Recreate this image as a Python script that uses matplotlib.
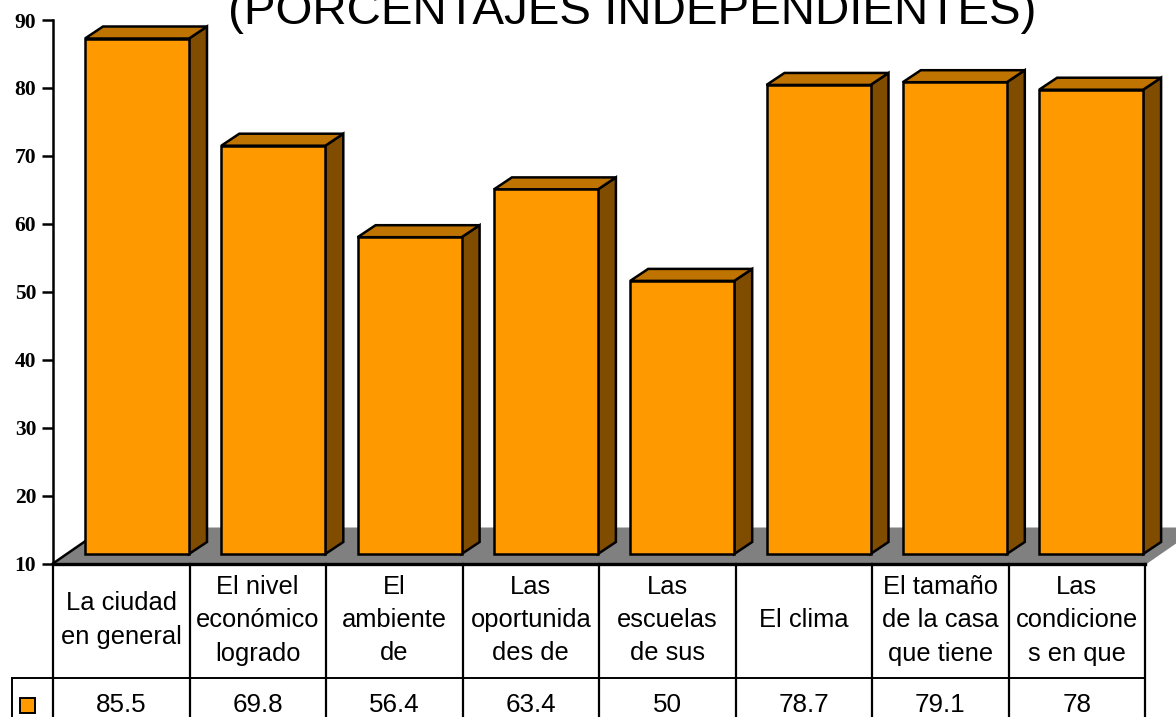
import matplotlib
matplotlib.use("Agg")
import matplotlib.pyplot as plt
from matplotlib.patches import Polygon

categories = ["La ciudad\nen general", "El nivel\neconómico\nlogrado", "El\nambiente\nde",
              "Las\noportunida\ndes de", "Las\nescuelas\nde sus", "El clima",
              "El tamaño\nde la casa\nque tiene", "Las\ncondicione\ns en que"]
values = [85.5, 69.8, 56.4, 63.4, 50, 78.7, 79.1, 78]
yticks = [10, 20, 30, 40, 50, 60, 70, 80, 90]
title = "(PORCENTAJES INDEPENDIENTES)"

W, H = 1176, 717
L, R, T, B = 53, 1145, 20, 563.5
ORANGE, TOP, SIDE, GREY = "#FF9900", "#BF7300", "#7F4C00", "#808080"
LW = 1.8

fig = plt.figure(figsize=(W / 100, H / 100), dpi=100, facecolor="white")
ax = fig.add_axes([L / W, 1 - B / H, (R - L) / W, (B - T) / H])
ax.set_xlim(0, len(values))
ax.set_ylim(10, 90)
ax.patch.set_visible(False)
for s in ("top", "right", "bottom"):
    ax.spines[s].set_visible(False)
ax.spines["left"].set_linewidth(LW)
ax.set_xticks([])
ax.set_yticks(yticks)
ax.tick_params(axis="y", length=8, width=LW, pad=4)
for t in ax.get_yticklabels():
    t.set_fontfamily("Liberation Serif")
    t.set_fontweight("bold")
    t.set_fontsize(15.5)

ux = (R - L) / len(values)
uy = (B - T) / 80
px = lambda p: (p - L) / ux
py = lambda p: 10 + (B - p) / uy

# floor
dx_f, dy_f = 52 / ux, 36 / uy
n = len(values)
ax.add_patch(Polygon([(0, 10), (n, 10), (n + dx_f, 10 + dy_f), (dx_f, 10 + dy_f)],
                     fc=GREY, ec="none", clip_on=False, zorder=1))
ax.plot([0, dx_f], [10, 10 + dy_f], color="black", lw=LW, clip_on=False, zorder=1.5)
ax.plot([n, n + dx_f], [10, 10 + dy_f], color=GREY, lw=LW, clip_on=False, zorder=1.5)

# bars
bw = 104 / ux
off = 32 / ux
step = 136.3 / ux
base = 10 + 9.5 / uy
dx, dy = 18 / ux, 12 / uy
kw = dict(ec="black", lw=LW, joinstyle="miter", clip_on=False, zorder=2)
for i, v in enumerate(values):
    x0 = i * step + off
    x1 = x0 + bw
    y1 = base + (v - 10) * 1.005
    ax.add_patch(Polygon([(x1, base), (x1 + dx, base + dy), (x1 + dx, y1 + dy), (x1, y1)], fc=SIDE, **kw))
    ax.add_patch(Polygon([(x0, y1), (x1, y1), (x1 + dx, y1 + dy), (x0 + dx, y1 + dy)], fc=TOP, **kw))
    ax.add_patch(Polygon([(x0, base), (x1, base), (x1, y1), (x0, y1)], fc=ORANGE, **kw))

# data table
line = dict(color="black", clip_on=False, zorder=3)
ax.plot([0, n], [10, 10], lw=2.4, **line)
ax.plot([px(12), n], [py(678), py(678)], lw=1.4, **line)
ax.plot([px(12), px(12)], [py(678), py(720)], lw=1.4, **line)
for i in range(n + 1):
    ax.plot([i, i], [10, py(720)], lw=1.6, **line)
for i, (c, v) in enumerate(zip(categories, values)):
    ax.text(i + 0.5, py(620), c, ha="center", va="center", family="Liberation Sans",
            fontsize=18.4, linespacing=1.5, clip_on=False)
    ax.text(i + 0.5, py(705), f"{v:g}", ha="center", va="center", family="Liberation Sans",
            fontsize=18.7, clip_on=False)
ax.add_patch(Polygon([(px(20), py(698)), (px(35), py(698)), (px(35), py(713)), (px(20), py(713))],
                     fc=ORANGE, ec="black", lw=1.4, clip_on=False, zorder=3))

fig.text(632 / W, 1 - 24 / H, title, ha="center", va="baseline", family="Liberation Sans", fontsize=34.2)
fig.savefig("out.png", dpi=100)
